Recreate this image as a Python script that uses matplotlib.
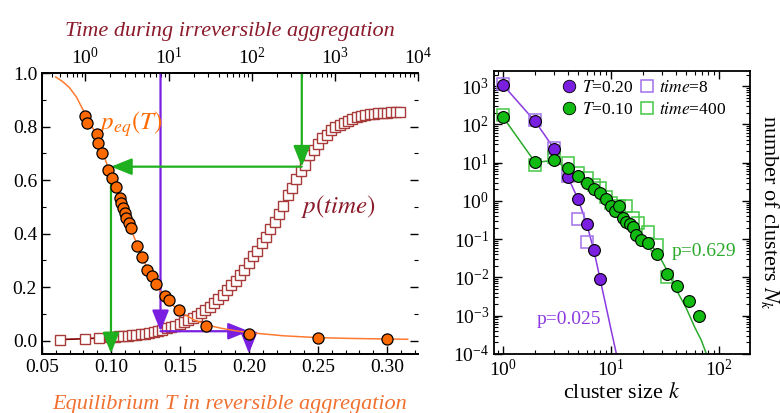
import numpy as np
import matplotlib
matplotlib.use("Agg")
import matplotlib.pyplot as plt
from matplotlib.lines import Line2D
from matplotlib.ticker import MultipleLocator, LogLocator, NullFormatter

plt.rcParams['font.family'] = ['Liberation Serif', 'DejaVu Serif']
plt.rcParams['mathtext.fontset'] = 'stix'

# ---- left panel data ----
# equilibrium p(T), reversible aggregation
T_eq = [0.0811, 0.0823, 0.0896, 0.0908, 0.0937, 0.098, 0.101, 0.1034, 0.1063, 0.107,
        0.109, 0.110, 0.111, 0.113, 0.1143, 0.119, 0.1228, 0.1264, 0.1296, 0.1325,
        0.1393, 0.1422, 0.1495, 0.169, 0.200, 0.250, 0.300]
p_eq = [0.841, 0.814, 0.773, 0.738, 0.700, 0.636, 0.607, 0.575, 0.533, 0.515,
        0.496, 0.477, 0.459, 0.440, 0.420, 0.353, 0.311, 0.265, 0.240, 0.212,
        0.168, 0.153, 0.113, 0.056, 0.025, 0.010, 0.006]
T_fit = [0.060, 0.065, 0.070, 0.075, 0.080, 0.085, 0.090, 0.095, 0.100, 0.105,
         0.110, 0.115, 0.120, 0.125, 0.130, 0.135, 0.140, 0.150, 0.160, 0.170,
         0.180, 0.190, 0.200, 0.225, 0.250, 0.275, 0.300, 0.315]
p_fit = [0.985, 0.968, 0.945, 0.910, 0.860, 0.810, 0.765, 0.690, 0.615, 0.545,
         0.475, 0.410, 0.345, 0.285, 0.232, 0.190, 0.155, 0.108, 0.078, 0.058,
         0.046, 0.037, 0.030, 0.018, 0.011, 0.008, 0.006, 0.005]

# p(time), irreversible aggregation
time_irr = [0.49, 1.0, 1.47, 2.00, 2.25, 2.54, 2.86, 3.22, 3.63, 4.09, 4.61, 5.20, 5.86,
            6.61, 7.45, 8.39, 9.46, 10.7, 12.0, 13.6, 15.3, 17.2, 19.4, 21.9, 24.7,
            27.8, 31.3, 35.3, 39.8, 44.9, 50.6, 57.0, 64.3, 72.4, 81.7, 92.0, 104,
            117, 132, 149, 167, 189, 213, 240, 270, 305, 344, 387, 437, 492, 555, 625,
            705, 794, 895, 1009, 1138, 1282, 1445, 1629, 1837, 2070, 2333, 2630, 2965,
            3342, 3767, 4246, 4786, 5395, 6081]
p_irr = [0.004, 0.007, 0.010, 0.013, 0.0145, 0.0156, 0.0167, 0.018, 0.020, 0.0214,
         0.023, 0.025, 0.028, 0.032, 0.036, 0.040, 0.046, 0.051, 0.056, 0.063, 0.069,
         0.077, 0.085, 0.093, 0.104, 0.115, 0.127, 0.142, 0.157, 0.171, 0.188, 0.206,
         0.224, 0.246, 0.265, 0.290, 0.315, 0.336, 0.364, 0.387, 0.416, 0.443, 0.474,
         0.504, 0.543, 0.572, 0.603, 0.634, 0.658, 0.692, 0.713, 0.735, 0.756, 0.770,
         0.786, 0.798, 0.807, 0.814, 0.822, 0.828, 0.834, 0.840, 0.844, 0.847, 0.8485,
         0.850, 0.8515, 0.852, 0.853, 0.854, 0.855]

# mapping arrows: time -> p -> T
t_green, p_green, T_green = 400, 0.65, 0.10
t_purple, p_purple, T_purple = 8, 0.035, 0.20

# ---- right panel data ----
k_T20 = [1, 2, 3, 4, 5, 6, 7, 8]
N_T20 = [1100, 120, 23, 4.3, 1.1, 0.25, 0.053, 0.009]
k_t8 = [1, 2, 3, 4, 5, 6]
N_t8 = [1150, 130, 24, 4.6, 0.34, 0.085]
k_fit20 = [1, 2, 3, 4, 5, 6, 7, 8, 9, 10, 11.3]
N_fit20 = [1100, 120, 23, 4.3, 1.1, 0.25, 0.05, 0.0088, 0.0019, 0.00048, 0.0001]

k_T10 = [1, 2, 3, 4, 5, 6, 7, 8, 9, 10, 11, 12, 13, 14, 15, 16, 17, 19, 22, 27, 33, 41, 53, 66]
N_T10 = [160, 10.2, 11.5, 7.2, 4.6, 3.0, 2.0, 1.6, 1.1, 0.72, 0.54, 0.72, 0.35, 0.29, 0.25,
         0.21, 0.13, 0.096, 0.08, 0.041, 0.012, 0.006, 0.0025, 0.00096]
k_t400 = [1, 2, 3, 4, 5, 6, 7, 8, 9, 10, 12, 14, 16, 18, 22, 27, 33]
N_t400 = [180, 8.5, 14, 9.8, 5.5, 4.0, 2.6, 2.2, 1.3, 0.9, 0.75, 0.72, 0.35, 0.26, 0.15, 0.07, 0.0105]
k_fit10 = [1, 2, 3, 4, 5, 6, 8, 10, 12, 15, 20, 27, 33, 41, 50, 60, 69, 77]
N_fit10 = [160, 10.2, 11.5, 7.0, 4.6, 3.0, 1.6, 0.85, 0.55, 0.3, 0.12, 0.045, 0.016, 0.0045,
           0.0016, 0.0005, 0.00023, 0.0001]

orange = '#ff6a00'
darkred = '#8b1a2a'
sqred = '#a83a3a'
purple = '#7a1fe0'
green = '#1fb01f'

fig = plt.figure(figsize=(7.8, 4.13), dpi=100)
ax = fig.add_axes([0.0538, 0.1429, 0.4821, 0.6803])
ax2 = fig.add_axes([0.6333, 0.1429, 0.3282, 0.6852])

# ---------------- left panel ----------------
ax.set_xlim(0.05, 0.3225)
ax.set_ylim(-0.05, 1.0)
axt = ax.twiny()
axt.set_xscale('log')
axt.set_xlim(0.3, 1e4)

axt.plot(time_irr, p_irr, '-', color='#800000', lw=1.2, zorder=2)
axt.plot(time_irr, p_irr, 's', ms=7.5, mfc='white', mec=sqred, mew=1.0, zorder=3)

ax.plot(T_fit, p_fit, '-', color='#ff7a30', lw=1.1, zorder=4)
ax.plot(T_eq, p_eq, 'o', ms=8, mfc=orange, mec='black', mew=0.9, zorder=5)
ax.set_zorder(axt.get_zorder() + 1)
ax.patch.set_visible(False)

arrow = dict(arrowstyle='-|>,head_length=0.75,head_width=0.3', lw=1.6,
             mutation_scale=17, shrinkA=0, shrinkB=0)
# green path
axt.annotate('', xy=(t_green, p_green), xytext=(t_green, 1.0),
             arrowprops=dict(arrow, color=green))
ax.annotate('', xy=(T_green, p_green), xytext=(t_green, p_green),
            textcoords=axt.transData, arrowprops=dict(arrow, color=green))
ax.annotate('', xy=(T_green, -0.048), xytext=(T_green, p_green),
            arrowprops=dict(arrow, color=green))
# purple path
axt.annotate('', xy=(t_purple, p_purple), xytext=(t_purple, 1.0),
             arrowprops=dict(arrow, color=purple))
ax.annotate('', xy=(T_purple, p_purple), xytext=(t_purple, p_purple),
            textcoords=axt.transData, arrowprops=dict(arrow, color=purple))
ax.annotate('', xy=(T_purple, -0.048), xytext=(T_purple, p_purple),
            arrowprops=dict(arrow, color=purple))

ax.text(0.0915, 0.81, r'$p_{eq}(T)$', color=orange, fontsize=18, va='center')
ax.text(0.2375, 0.50, r'$p(time)$', color=darkred, fontsize=18, va='center')

ax.xaxis.set_minor_locator(MultipleLocator(0.01))
ax.yaxis.set_minor_locator(MultipleLocator(0.1))
ax.set_xticks([0.05, 0.10, 0.15, 0.20, 0.25, 0.30])
ax.set_xticklabels(['0.05', '0.10', '0.15', '0.20', '0.25', '0.30'])
ax.set_yticks([0.0, 0.2, 0.4, 0.6, 0.8, 1.0])
ax.set_yticklabels(['0.0', '0.2', '0.4', '0.6', '0.8', '1.0'])
ax.tick_params(which='both', direction='in', left=True, right=True, labelsize=14)
ax.tick_params(which='major', length=6, width=1)
ax.tick_params(which='minor', length=3, width=0.8)
ax.spines['right'].set_visible(False)
axt.spines['right'].set_visible(False)
axt.xaxis.set_major_locator(LogLocator(base=10, numticks=10))
axt.xaxis.set_minor_locator(LogLocator(base=10, subs=np.arange(2, 10), numticks=20))
axt.xaxis.set_minor_formatter(NullFormatter())
axt.tick_params(which='both', direction='in', labelsize=14)
axt.tick_params(which='major', length=6, width=1)
axt.tick_params(which='minor', length=3, width=0.8)
for a in (ax, axt):
    for s in a.spines.values():
        s.set_linewidth(1.3)

axt.set_xlabel('Time during irreversible aggregation', fontsize=16,
               style='italic', color=darkred, labelpad=8)
ax.set_xlabel('Equilibrium T in reversible aggregation', fontsize=16,
              style='italic', color='#f07030', labelpad=14)

# ---------------- right panel ----------------
ax2.set_xscale('log')
ax2.set_yscale('log')
ax2.set_xlim(0.83, 195)
ax2.set_ylim(1e-4, 2500)

ax2.plot(k_fit20, N_fit20, '-', color='#8a3ae0', lw=1.1, zorder=2)
ax2.plot(k_fit10, N_fit10, '-', color='#2aaa2a', lw=1.1, zorder=2)
ax2.plot(k_t8, N_t8, 's', ms=8.5, mfc='none', mec='#a070ea', mew=1.1, zorder=3)
ax2.plot(k_t400, N_t400, 's', ms=8.5, mfc='none', mec='#44c844', mew=1.1, zorder=3)
ax2.plot(k_T20, N_T20, 'o', ms=8.5, mfc=purple, mec='black', mew=0.8, zorder=4)
ax2.plot(k_T10, N_T10, 'o', ms=8.5, mfc='#11bb11', mec='black', mew=0.8, zorder=4)

handles = [Line2D([], [], ls='', marker='o', ms=9, mfc=purple, mec='black', mew=0.6),
           Line2D([], [], ls='', marker='o', ms=9, mfc='#11bb11', mec='black', mew=0.6),
           Line2D([], [], ls='', marker='s', ms=8, mfc='none', mec='#a070ea', mew=1.1),
           Line2D([], [], ls='', marker='s', ms=8, mfc='none', mec='#44c844', mew=1.1)]
labels = [r'$T$=0.20', r'$T$=0.10', r'$time$=8', r'$time$=400']
ax2.legend(handles, labels, ncol=2, frameon=False, fontsize=12.5,
           loc='upper left', bbox_to_anchor=(0.22, 1.01), handlelength=0.8,
           handletextpad=0.3, columnspacing=0.4, labelspacing=0.3, borderpad=0.2)

ax2.text(2.07, 8e-4, 'p=0.025', color='#8a3ae0', fontsize=14, va='center')
ax2.text(37, 0.047, 'p=0.629', color='#2aaa2a', fontsize=14, va='center')

ax2.xaxis.set_major_locator(LogLocator(base=10, numticks=10))
ax2.xaxis.set_minor_locator(LogLocator(base=10, subs=np.arange(2, 10), numticks=20))
ax2.yaxis.set_major_locator(LogLocator(base=10, numticks=20))
ax2.yaxis.set_minor_locator(LogLocator(base=10, subs=np.arange(2, 10), numticks=40))
ax2.xaxis.set_minor_formatter(NullFormatter())
ax2.yaxis.set_minor_formatter(NullFormatter())
ax2.tick_params(which='both', direction='in', top=True, right=True, labelsize=14)
ax2.tick_params(which='major', length=6, width=1)
ax2.tick_params(which='minor', length=3, width=0.8)
for s in ax2.spines.values():
    s.set_linewidth(1.3)
ax2.set_xlabel(r'cluster size $k$', fontsize=16, labelpad=2)
ax2.yaxis.set_label_position('right')
ax2.set_ylabel(r'number of clusters $N_k$', fontsize=16, rotation=270, labelpad=22)

fig.savefig('out.png', dpi=100)
